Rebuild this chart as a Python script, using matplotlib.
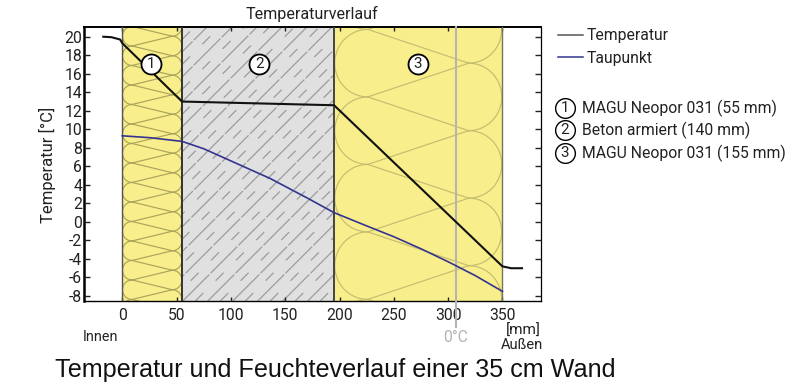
#!/usr/bin/env python3
"""Temperature and dew point profile through a 35 cm wall."""

import numpy as np
import matplotlib
matplotlib.use("Agg")
import matplotlib.pyplot as plt
from matplotlib.lines import Line2D
from matplotlib.patches import Rectangle

plt.rcParams["font.family"] = ["Roboto", "DejaVu Sans"]
plt.rcParams["axes.unicode_minus"] = False

TEMP_X = [-17.5, -10, -2, 0, 55, 195, 350, 358, 368]
TEMP_Y = [20.0, 19.95, 19.7, 19.3, 13.0, 12.6, -4.8, -5.0, -5.0]
DEW_X = [0, 25, 55, 75, 96, 115, 136, 170, 195, 225, 250, 275, 300, 325, 350]
DEW_Y = [9.3, 9.1, 8.7, 7.9, 6.8, 5.8, 4.7, 2.6, 1.0, -0.43, -1.6, -2.9, -4.3, -5.8, -7.5]

LAYER_EDGES = [0, 55, 195, 350]
LAYER_NAMES = ["MAGU Neopor 031 (55 mm)", "Beton armiert (140 mm)", "MAGU Neopor 031 (155 mm)"]
LABEL_X = [26.4, 126, 272]
LABEL_Y = 17.05

X_TICKS = [0, 50, 100, 150, 200, 250, 300, 350]
Y_TICKS = list(range(-8, 21, 2))
FROST_X = 307

W, H = 800, 385
AX_L, AX_R, AX_T, AX_B = 83.5, 541, 27, 301
XLIM = (-35.7, 385.5)
YLIM = (-8.54, 21.05)

YELLOW = "#f9ee8c"
GREY = "#e0e0e0"
HATCH = "#9c9c9c"
TEXT = "#222222"
px_x = (AX_R - AX_L) / (XLIM[1] - XLIM[0])
px_y = (AX_B - AX_T) / (YLIM[1] - YLIM[0])


def fx(px):
    return px / W


def fy(py):
    return 1 - py / H


def insulation(ax, x0, x1, radius, anchor, color, lw):
    # stacked round ends on both sides joined by diagonals, radius in pixels
    rx = radius / px_x
    ry = radius / px_y
    clip = Rectangle((x0, YLIM[0]), x1 - x0, YLIM[1] - YLIM[0], transform=ax.transData)
    t = np.linspace(np.pi / 2, 3 * np.pi / 2, 40)
    n = int(32 / (2 * ry)) + 2
    for k in range(-n, n + 1):
        left = anchor - 2 * ry * k
        right = left + ry
        curves = [
            (x0 + rx + rx * np.cos(t) * 0.98, left - ry + ry * np.sin(t)),
            (x1 - rx - rx * np.cos(t) * 0.98, right - ry + ry * np.sin(t)),
            ([x0 + rx, x1 - rx], [left, right]),
            ([x0 + rx, x1 - rx], [left, right - 2 * ry]),
        ]
        for cx, cy in curves:
            line, = ax.plot(cx, cy, color=color, lw=lw, zorder=2)
            line.set_clip_path(clip)


def concrete(ax, x0, x1):
    clip = Rectangle((x0, YLIM[0]), x1 - x0, YLIM[1] - YLIM[0], transform=ax.transData)
    span = (AX_B - AX_T) / px_x
    for start in np.arange(x0 - span, x1 + 30, 23):
        # long diagonal, then the short dashes halfway to the next one
        long_line, = ax.plot([start, start + span], YLIM, color=HATCH, lw=0.9,
                             dashes=(30, 1.5), zorder=2)
        short_line, = ax.plot([start + 11.5, start + 11.5 + span], YLIM, color=HATCH, lw=0.9,
                              dashes=(9, 14), zorder=2)
        long_line.set_clip_path(clip)
        short_line.set_clip_path(clip)


def badge(fig, x, y, text, size):
    fig.add_artist(Line2D([fx(x)], [fy(y)], marker="o", ms=size, mfc="white", mec="black",
                          mew=1.0, ls="none", transform=fig.transFigure))
    fig.text(fx(x), fy(y), text, ha="center", va="center", fontsize=11, color=TEXT)


def main():
    fig = plt.figure(figsize=(W / 100, H / 100), dpi=100)
    ax = fig.add_axes([fx(AX_L), fy(AX_B), (AX_R - AX_L) / W, (AX_B - AX_T) / H])
    ax.set_xlim(XLIM)
    ax.set_ylim(YLIM)

    ax.axvspan(LAYER_EDGES[0], LAYER_EDGES[1], color=YELLOW, lw=0, zorder=1)
    ax.axvspan(LAYER_EDGES[1], LAYER_EDGES[2], color=GREY, lw=0, zorder=1)
    ax.axvspan(LAYER_EDGES[2], LAYER_EDGES[3], color=YELLOW, lw=0, zorder=1)
    insulation(ax, LAYER_EDGES[0], LAYER_EDGES[1], 9.75, -6.27, "#aaa45c", 0.85)
    concrete(ax, LAYER_EDGES[1], LAYER_EDGES[2])
    insulation(ax, LAYER_EDGES[2], LAYER_EDGES[3], 33.75, 13.5, "#c4bd70", 0.85)

    ax.axvline(LAYER_EDGES[0], color="#555555", lw=1.0, zorder=3)
    ax.axvline(LAYER_EDGES[1], color="#333333", lw=1.4, zorder=3)
    ax.axvline(LAYER_EDGES[2], color="#444444", lw=1.4, zorder=3)
    ax.axvline(LAYER_EDGES[3], color="#777755", lw=1.0, zorder=3)

    # the 0 degree marker runs on below the axes
    ax.plot([FROST_X, FROST_X], [YLIM[0] - 2.8, YLIM[1]], color="#b4b4b0", lw=1.5,
            clip_on=False, zorder=4)

    ax.plot(TEMP_X, TEMP_Y, color="#111111", lw=1.5, zorder=5)
    ax.plot(DEW_X, DEW_Y, color="#34348f", lw=1.2, zorder=5)

    for x, num in zip(LABEL_X, "123"):
        ax.plot([x], [LABEL_Y], marker="o", ms=14.4, mfc="white", mec="black", mew=1.3,
                ls="none", zorder=6)
        ax.text(x, LABEL_Y, num, ha="center", va="center", fontsize=11, zorder=7, color=TEXT)

    ax.set_xticks(X_TICKS)
    ax.set_yticks(Y_TICKS)
    ax.tick_params(axis="both", direction="in", length=3, width=1, top=True, right=True,
                   labelsize=11.3, colors=TEXT)
    ax.tick_params(axis="x", pad=5)
    ax.tick_params(axis="y", pad=1, length=4)
    ax.spines["left"].set_linewidth(1.8)
    ax.spines["top"].set_linewidth(1.4)
    ax.spines["bottom"].set_linewidth(1.0)
    ax.spines["right"].set_linewidth(0.9)
    ax.set_axisbelow(False)

    fig.text(fx(47), fy(165), "Temperatur [°C]", rotation=90, ha="center", va="center",
             fontsize=12, color=TEXT)
    fig.text(fx(312), fy(14), "Temperaturverlauf", ha="center", va="center", fontsize=11.6,
             color=TEXT)
    fig.text(fx(101), fy(337), "Innen", ha="center", va="center", fontsize=10.4, color=TEXT)
    fig.text(fx(541), fy(331), "[mm]", ha="right", va="center", fontsize=11, color=TEXT)
    fig.text(fx(521.5), fy(345), "Außen", ha="center", va="center", fontsize=10.6, color=TEXT)
    fig.text(fx(456), fy(337), "0°C", ha="center", va="center", fontsize=11.3, color="#b4b4b4")

    for y, color, name in [(34.5, "#555555", "Temperatur"), (57, "#34348f", "Taupunkt")]:
        fig.add_artist(Line2D([fx(558), fx(583)], [fy(y), fy(y)], color=color, lw=1.1,
                              transform=fig.transFigure))
        fig.text(fx(587), fy(y + 1), name, ha="left", va="center", fontsize=11.3, color=TEXT)

    for y, num, name in zip([108, 130, 153], "123", LAYER_NAMES):
        badge(fig, 565, y, num, 14.2)
        fig.text(fx(582), fy(y), name, ha="left", va="center", fontsize=11.3, color=TEXT)

    fig.text(fx(55), fy(370), "Temperatur und Feuchteverlauf einer 35 cm Wand", ha="left",
             va="center", fontsize=18.1, family="Liberation Sans", color="#111111")

    fig.savefig("out.png", dpi=100)
    plt.close(fig)


if __name__ == "__main__":
    main()
